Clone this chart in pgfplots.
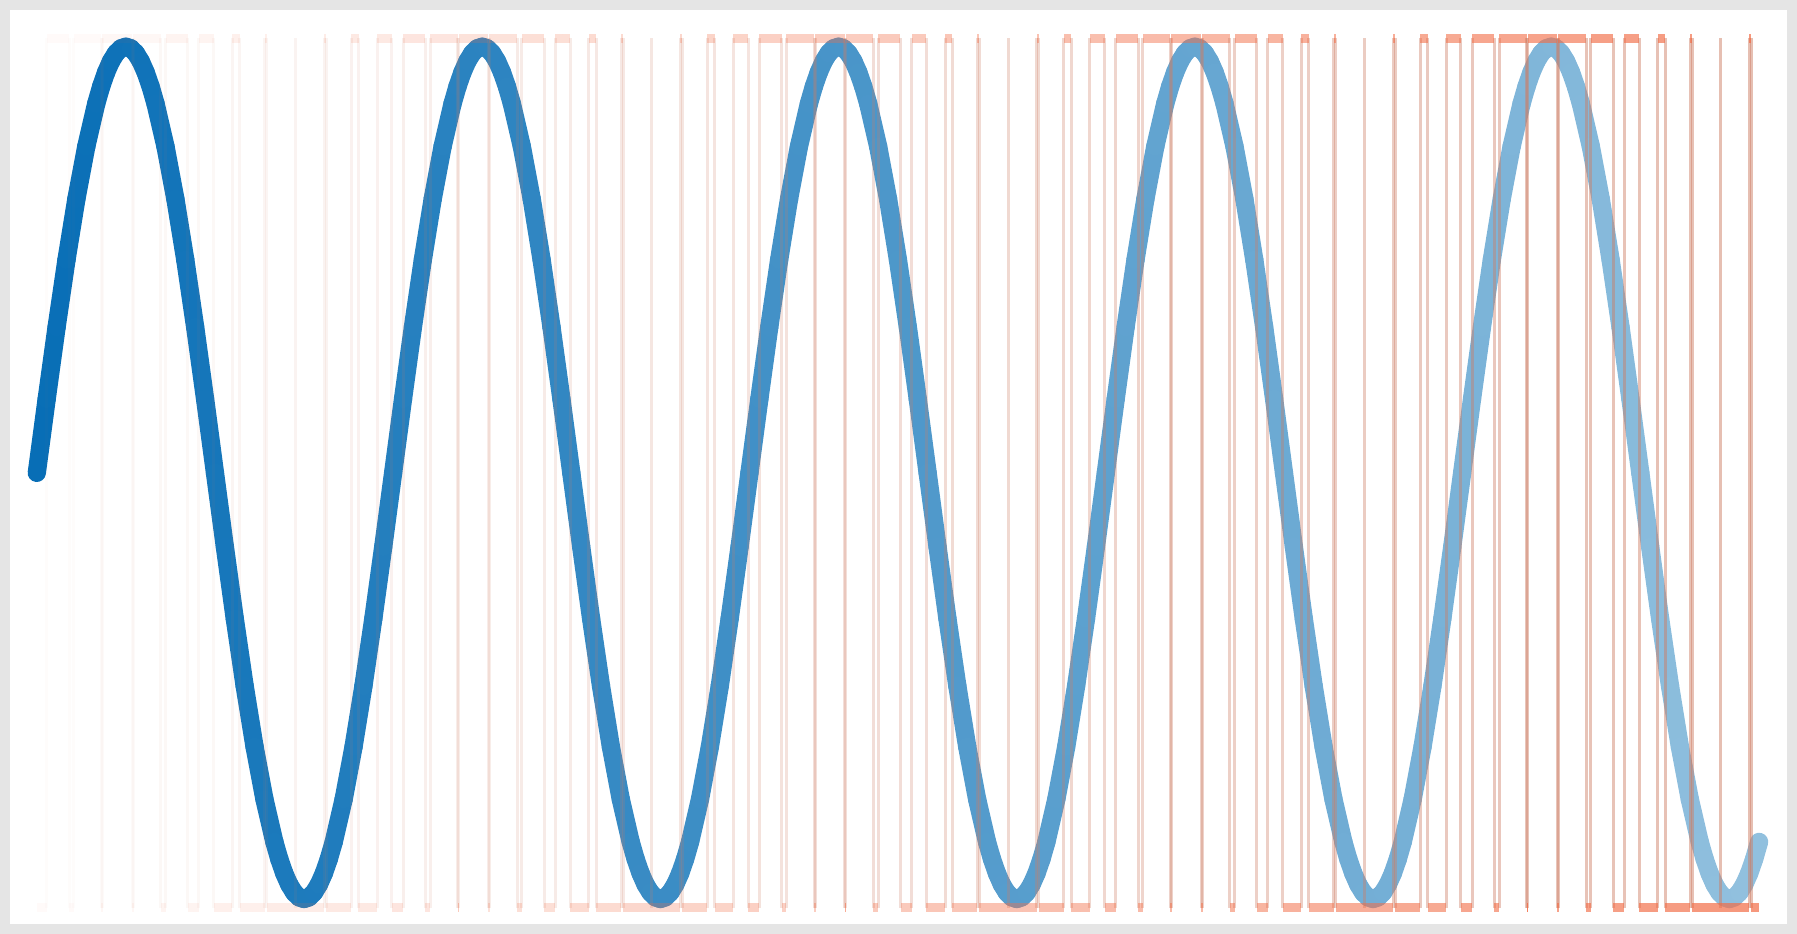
\documentclass[border=0pt]{standalone}
\usepackage{pgfplots}
\usepackage{pgfplotstable}
\pgfplotsset{compat=1.18}

\definecolor{barc}{RGB}{242,110,72}
\definecolor{edgec}{RGB}{205,125,100}

% pulse-width signal: top/bottom runs (centre, level, half width)
\pgfplotstableread[row sep=\\]{
x l e\\
21.3 1.02 11.25\\ 51.3 1.02 14\\ 81.3 1.02 15\\ 111.3 1.02 14\\ 141.3 1.02 11.25\\ 171.3 1.02 7.5\\ 201.3 1.02 3.75\\ 231.3 1.02 1\\ 291.3 1.02 1\\ 321.3 1.02 3.75\\ 351.3 1.02 7.5\\
381.3 1.02 11.25\\ 411.3 1.02 14\\ 441.3 1.02 15\\ 471.3 1.02 14\\ 501.3 1.02 11.25\\ 531.3 1.02 7.5\\ 561.3 1.02 3.75\\ 591.3 1.02 1\\ 651.3 1.02 1\\ 681.3 1.02 3.75\\ 711.3 1.02 7.5\\
741.3 1.02 11.25\\ 771.3 1.02 14\\ 801.3 1.02 15\\ 831.3 1.02 14\\ 861.3 1.02 11.25\\ 891.3 1.02 7.5\\ 921.3 1.02 3.75\\ 951.3 1.02 1\\ 1011.3 1.02 1\\ 1041.3 1.02 3.75\\ 1071.3 1.02 7.5\\
1101.3 1.02 11.25\\ 1131.3 1.02 14\\ 1161.3 1.02 15\\ 1191.3 1.02 14\\ 1221.3 1.02 11.25\\ 1251.3 1.02 7.5\\ 1281.3 1.02 3.75\\ 1311.3 1.02 1\\ 1371.3 1.02 1\\ 1401.3 1.02 3.75\\ 1431.3 1.02 7.5\\
1461.3 1.02 11.25\\ 1491.3 1.02 14\\ 1521.3 1.02 15\\ 1551.3 1.02 14\\ 1581.3 1.02 11.25\\ 1611.3 1.02 7.5\\ 1641.3 1.02 3.75\\ 1671.3 1.02 1\\ 1731.3 1.02 1\\
5 -1.02 5\\ 34.9 -1.02 2.4\\ 65.8 -1.02 0.5\\ 96.8 -1.02 0.5\\ 127.7 -1.02 2.4\\ 158.2 -1.02 5.6\\ 188.2 -1.02 9.4\\ 217.7 -1.02 12.6\\ 246.8 -1.02 14.5\\ 275.8 -1.02 14.5\\ 304.9 -1.02 12.6\\ 334.4 -1.02 9.4\\ 364.4 -1.02 5.6\\
394.9 -1.02 2.4\\ 425.8 -1.02 0.5\\ 456.8 -1.02 0.5\\ 487.7 -1.02 2.4\\ 518.2 -1.02 5.6\\ 548.2 -1.02 9.4\\ 577.7 -1.02 12.6\\ 606.8 -1.02 14.5\\ 635.8 -1.02 14.5\\ 664.9 -1.02 12.6\\ 694.4 -1.02 9.4\\ 724.4 -1.02 5.6\\
754.9 -1.02 2.4\\ 785.8 -1.02 0.5\\ 816.8 -1.02 0.5\\ 847.7 -1.02 2.4\\ 878.2 -1.02 5.6\\ 908.2 -1.02 9.4\\ 937.7 -1.02 12.6\\ 966.8 -1.02 14.5\\ 995.8 -1.02 14.5\\ 1024.9 -1.02 12.6\\ 1054.4 -1.02 9.4\\ 1084.4 -1.02 5.6\\
1114.9 -1.02 2.4\\ 1145.8 -1.02 0.5\\ 1176.8 -1.02 0.5\\ 1207.7 -1.02 2.4\\ 1238.2 -1.02 5.6\\ 1268.2 -1.02 9.4\\ 1297.7 -1.02 12.6\\ 1326.8 -1.02 14.5\\ 1355.8 -1.02 14.5\\ 1384.9 -1.02 12.6\\ 1414.4 -1.02 9.4\\ 1444.4 -1.02 5.6\\
1474.9 -1.02 2.4\\ 1505.8 -1.02 0.5\\ 1536.8 -1.02 0.5\\ 1567.7 -1.02 2.4\\ 1598.2 -1.02 5.6\\ 1628.2 -1.02 9.4\\ 1657.7 -1.02 12.6\\ 1686.8 -1.02 14.5\\ 1715.8 -1.02 14.5\\ 1736.2 -1.02 3.9\\
}\bars

% switching edges (x, mid level, half height)
\pgfplotstableread[row sep=\\]{
x y e\\
10.1 0 1.02\\ 32.6 0 1.02\\ 37.3 0 1.02\\ 65.3 0 1.02\\ 66.3 0 1.02\\ 96.3 0 1.02\\ 97.3 0 1.02\\ 125.3 0 1.02\\ 130.1 0 1.02\\ 152.6 0 1.02\\ 163.8 0 1.02\\ 178.8 0 1.02\\ 197.6 0 1.02\\ 205.1 0 1.02\\ 230.3 0 1.02\\ 232.3 0 1.02\\ 261.3 0 1.02\\ 290.3 0 1.02\\ 292.3 0 1.02\\ 317.6 0 1.02\\ 325.1 0 1.02\\ 343.8 0 1.02\\ 358.8 0 1.02\\
370.1 0 1.02\\ 392.6 0 1.02\\ 397.3 0 1.02\\ 425.3 0 1.02\\ 426.3 0 1.02\\ 456.3 0 1.02\\ 457.3 0 1.02\\ 485.3 0 1.02\\ 490.1 0 1.02\\ 512.6 0 1.02\\ 523.8 0 1.02\\ 538.8 0 1.02\\ 557.6 0 1.02\\ 565.1 0 1.02\\ 590.3 0 1.02\\ 592.3 0 1.02\\ 621.3 0 1.02\\ 650.3 0 1.02\\ 652.3 0 1.02\\ 677.6 0 1.02\\ 685.1 0 1.02\\ 703.8 0 1.02\\ 718.8 0 1.02\\
730.1 0 1.02\\ 752.6 0 1.02\\ 757.3 0 1.02\\ 785.3 0 1.02\\ 786.3 0 1.02\\ 816.3 0 1.02\\ 817.3 0 1.02\\ 845.3 0 1.02\\ 850.1 0 1.02\\ 872.6 0 1.02\\ 883.8 0 1.02\\ 898.8 0 1.02\\ 917.6 0 1.02\\ 925.1 0 1.02\\ 950.3 0 1.02\\ 952.3 0 1.02\\ 981.3 0 1.02\\ 1010.3 0 1.02\\ 1012.3 0 1.02\\ 1037.6 0 1.02\\ 1045.1 0 1.02\\ 1063.8 0 1.02\\ 1078.8 0 1.02\\
1090.1 0 1.02\\ 1112.6 0 1.02\\ 1117.3 0 1.02\\ 1145.3 0 1.02\\ 1146.3 0 1.02\\ 1176.3 0 1.02\\ 1177.3 0 1.02\\ 1205.3 0 1.02\\ 1210.1 0 1.02\\ 1232.6 0 1.02\\ 1243.8 0 1.02\\ 1258.8 0 1.02\\ 1277.6 0 1.02\\ 1285.1 0 1.02\\ 1310.3 0 1.02\\ 1312.3 0 1.02\\ 1341.3 0 1.02\\ 1370.3 0 1.02\\ 1372.3 0 1.02\\ 1397.6 0 1.02\\ 1405.1 0 1.02\\ 1423.8 0 1.02\\ 1438.8 0 1.02\\
1450.1 0 1.02\\ 1472.6 0 1.02\\ 1477.3 0 1.02\\ 1505.3 0 1.02\\ 1506.3 0 1.02\\ 1536.3 0 1.02\\ 1537.3 0 1.02\\ 1565.3 0 1.02\\ 1570.1 0 1.02\\ 1592.6 0 1.02\\ 1603.8 0 1.02\\ 1618.8 0 1.02\\ 1637.6 0 1.02\\ 1645.1 0 1.02\\ 1670.3 0 1.02\\ 1672.3 0 1.02\\ 1701.3 0 1.02\\ 1730.3 0 1.02\\ 1732.3 0 1.02\\
}\edges

\begin{document}
\begin{tikzpicture}
\begin{axis}[
    scale only axis,
    width=449.25pt, height=232.25pt,
    xmin=-32.15, xmax=1773.3,
    ymin=-1.07, ymax=1.098,
    xtick=\empty, ytick=\empty,
    axis line style={draw=black!10, line width=2.5pt},
    ]
% sine, fading from dark to light blue
\addplot[mesh, point meta=x, line width=4.6pt, line cap=round, line join=round,
    colormap={sinemap}{rgb255=(8,110,182) rgb255=(145,192,222)}] coordinates {
(0,0)(10,0.1736)(20,0.342)(30,0.5)(40,0.6428)(50,0.766)(60,0.866)(65,0.9063)(70,0.9397)(75,0.9659)(80,0.9848)(85,0.9962)(90,1)(95,0.9962)(100,0.9848)(105,0.9659)(110,0.9397)(115,0.9063)(120,0.866)(130,0.766)(140,0.6428)(150,0.5)(160,0.342)(170,0.1736)(180,0)(190,-0.1736)(200,-0.342)(210,-0.5)(220,-0.6428)(230,-0.766)(240,-0.866)(245,-0.9063)(250,-0.9397)(255,-0.9659)(260,-0.9848)(265,-0.9962)(270,-1)(275,-0.9962)(280,-0.9848)(285,-0.9659)(290,-0.9397)(295,-0.9063)(300,-0.866)(310,-0.766)(320,-0.6428)(330,-0.5)(340,-0.342)(350,-0.1736)
(360,0)(370,0.1736)(380,0.342)(390,0.5)(400,0.6428)(410,0.766)(420,0.866)(425,0.9063)(430,0.9397)(435,0.9659)(440,0.9848)(445,0.9962)(450,1)(455,0.9962)(460,0.9848)(465,0.9659)(470,0.9397)(475,0.9063)(480,0.866)(490,0.766)(500,0.6428)(510,0.5)(520,0.342)(530,0.1736)(540,0)(550,-0.1736)(560,-0.342)(570,-0.5)(580,-0.6428)(590,-0.766)(600,-0.866)(605,-0.9063)(610,-0.9397)(615,-0.9659)(620,-0.9848)(625,-0.9962)(630,-1)(635,-0.9962)(640,-0.9848)(645,-0.9659)(650,-0.9397)(655,-0.9063)(660,-0.866)(670,-0.766)(680,-0.6428)(690,-0.5)(700,-0.342)(710,-0.1736)
(720,0)(730,0.1736)(740,0.342)(750,0.5)(760,0.6428)(770,0.766)(780,0.866)(785,0.9063)(790,0.9397)(795,0.9659)(800,0.9848)(805,0.9962)(810,1)(815,0.9962)(820,0.9848)(825,0.9659)(830,0.9397)(835,0.9063)(840,0.866)(850,0.766)(860,0.6428)(870,0.5)(880,0.342)(890,0.1736)(900,0)(910,-0.1736)(920,-0.342)(930,-0.5)(940,-0.6428)(950,-0.766)(960,-0.866)(965,-0.9063)(970,-0.9397)(975,-0.9659)(980,-0.9848)(985,-0.9962)(990,-1)(995,-0.9962)(1000,-0.9848)(1005,-0.9659)(1010,-0.9397)(1015,-0.9063)(1020,-0.866)(1030,-0.766)(1040,-0.6428)(1050,-0.5)(1060,-0.342)(1070,-0.1736)
(1080,0)(1090,0.1736)(1100,0.342)(1110,0.5)(1120,0.6428)(1130,0.766)(1140,0.866)(1145,0.9063)(1150,0.9397)(1155,0.9659)(1160,0.9848)(1165,0.9962)(1170,1)(1175,0.9962)(1180,0.9848)(1185,0.9659)(1190,0.9397)(1195,0.9063)(1200,0.866)(1210,0.766)(1220,0.6428)(1230,0.5)(1240,0.342)(1250,0.1736)(1260,0)(1270,-0.1736)(1280,-0.342)(1290,-0.5)(1300,-0.6428)(1310,-0.766)(1320,-0.866)(1325,-0.9063)(1330,-0.9397)(1335,-0.9659)(1340,-0.9848)(1345,-0.9962)(1350,-1)(1355,-0.9962)(1360,-0.9848)(1365,-0.9659)(1370,-0.9397)(1375,-0.9063)(1380,-0.866)(1390,-0.766)(1400,-0.6428)(1410,-0.5)(1420,-0.342)(1430,-0.1736)
(1440,0)(1450,0.1736)(1460,0.342)(1470,0.5)(1480,0.6428)(1490,0.766)(1500,0.866)(1505,0.9063)(1510,0.9397)(1515,0.9659)(1520,0.9848)(1525,0.9962)(1530,1)(1535,0.9962)(1540,0.9848)(1545,0.9659)(1550,0.9397)(1555,0.9063)(1560,0.866)(1570,0.766)(1580,0.6428)(1590,0.5)(1600,0.342)(1610,0.1736)(1620,0)(1630,-0.1736)(1640,-0.342)(1650,-0.5)(1660,-0.6428)(1670,-0.766)(1680,-0.866)(1685,-0.9063)(1690,-0.9397)(1695,-0.9659)(1700,-0.9848)(1705,-0.9962)(1710,-1)(1715,-0.9962)(1720,-0.9848)(1725,-0.9659)(1730,-0.9397)(1735,-0.9063)(1740,-0.866)
};
% pulse train, fading in from left to right (drawn in slices)
\pgfplotsinvokeforeach{0,...,28}{
  \pgfmathsetmacro\opb{0.02+0.7*(#1+0.5)/29}
  \pgfmathsetmacro\ope{0.7*\opb}
  \pgfmathsetmacro\lo{60*#1-0.01}
  \pgfmathsetmacro\hi{60*#1+59.99}
  \edef\doplots{%
    \noexpand\addplot[draw=none, mark=none, restrict x to domain=\lo:\hi,
      error bars/.cd, y dir=both, y explicit, error mark=none,
      error bar style={draw=edgec, line width=0.75pt, opacity=\ope}]
      table[x=x, y=y, y error=e] {\noexpand\edges};
    \noexpand\addplot[draw=none, mark=none, restrict x to domain=\lo:\hi,
      error bars/.cd, x dir=both, x explicit, error mark=none,
      error bar style={draw=barc, line width=2.25pt, opacity=\opb}]
      table[x=x, y=l, x error=e] {\noexpand\bars};
  }
  \doplots
}
\end{axis}
\end{tikzpicture}
\end{document}
